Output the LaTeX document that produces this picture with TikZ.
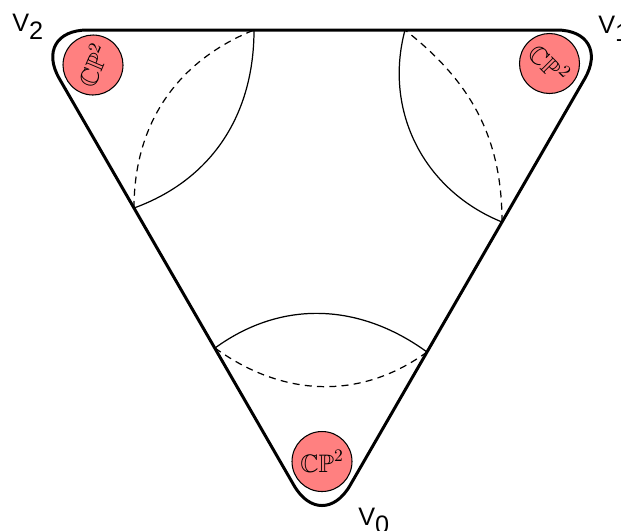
\documentclass[tikz,border=0pt]{standalone}
\usepackage{amssymb}
\usepackage{fontspec}
\setsansfont{Liberation Sans}
\usetikzlibrary{positioning}
\definecolor{cpred}{RGB}{255,128,128}
\tikzset{
  hull/.style={line width=1.7pt, rounded corners=32pt, line join=round},
  frontarc/.style={line width=0.7pt},
  backarc/.style={line width=0.7pt, dash pattern=on 4pt off 3pt},
  cpdisc/.style={circle, draw=black, fill=cpred, line width=0.6pt,
    minimum size=34.2pt, inner sep=0pt, font=\Large},
  vlabel/.style={anchor=base west, inner sep=0pt, font=\sffamily\Large}
}
\newcommand{\vname}[1]{V\raisebox{-5pt}{#1}}

\begin{document}
\begin{tikzpicture}[x=0.57pt, y=0.57pt]
  \useasboundingbox (0,0) rectangle (621,-530);

  % Corners
  \coordinate (top) at (322,-30);
  \coordinate (v2) at (31.3,-30);
  \coordinate (v1) at (612.8,-30);
  \coordinate (v0) at (322,-534);
  \draw[hull] (top) -- (v1) -- (v0) -- (v2) -- cycle;

  % Discs
  \node[cpdisc, rotate=67] (d2) at (93,-65) {$\mathbb{CP}^2$};
  \node[cpdisc, rotate=-45] (d1) at (549.5,-63.5) {$\mathbb{CP}^2$};
  \node[cpdisc] (d0) at (322,-461.5) {$\mathbb{CP}^2$};

  % Labels
  \node[vlabel] (l2) at (12,-31) {\vname{2}};
  \node[vlabel] (l1) at (598,-33) {\vname{1}};
  \node[vlabel] (l0) at (358,-525) {\vname{0}};

  % Necks
  \coordinate (n2a) at (254,-30);
  \coordinate (n2b) at (134,-208);
  \coordinate (n1a) at (405,-30);
  \coordinate (n1b) at (502,-222);
  \coordinate (n0a) at (215,-348);
  \coordinate (n0b) at (427,-352);
  \draw[frontarc] (n2a) to[out=-90,in=20] (n2b);
  \draw[backarc] (n2b) to[out=90,in=202] (n2a);
  \draw[frontarc] (n1a) to[out=-105,in=158] (n1b);
  \draw[backarc] (n1b) to[out=90,in=-38] (n1a);
  \draw[frontarc] (n0a) to[out=36,in=144] (n0b);
  \draw[backarc] (n0a) to[out=-36,in=216] (n0b);
\end{tikzpicture}
\end{document}
